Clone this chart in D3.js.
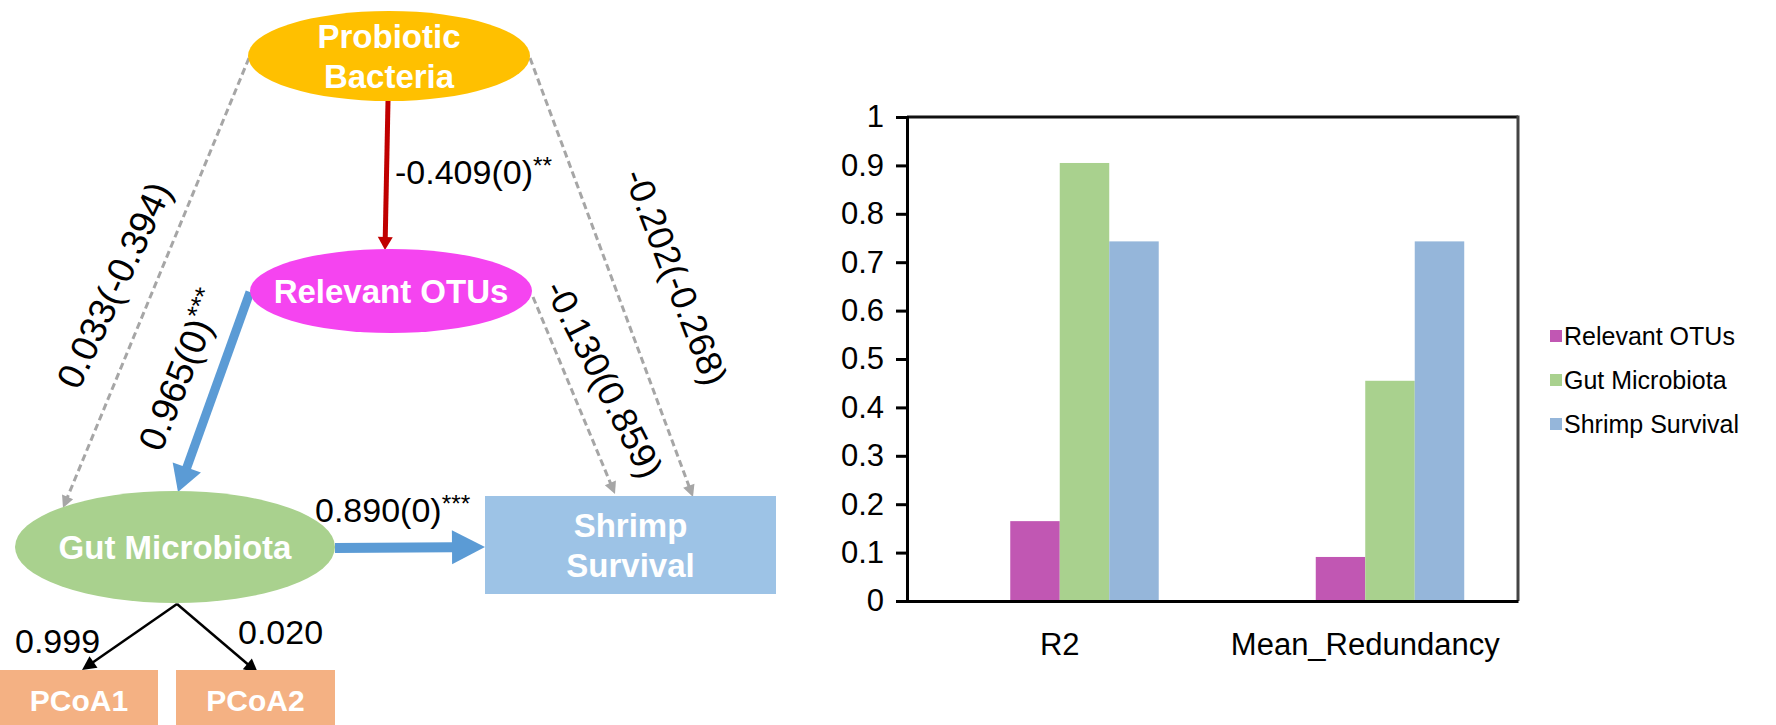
<!DOCTYPE html>
<html>
<head>
<meta charset="utf-8">
<script src="https://cdn.jsdelivr.net/npm/d3@7"></script>
<style>
  html, body { margin: 0; padding: 0; background: #fff; }
  svg { display: block; }
  text { font-family: "Liberation Sans", Arial, sans-serif; }
</style>
</head>
<body>
<svg id="chart" width="1776" height="725"></svg>
<script>
// ---------------- DATA ----------------
const categories = ["R2", "Mean_Redundancy"];
const seriesNames = ["Relevant OTUs", "Gut Microbiota", "Shrimp Survival"];
const relevantOTUs = [0.165, 0.091];
const gutMicrobiota = [0.905, 0.455];
const shrimpSurvival = [0.743, 0.743];
const yTicks = [0, 0.1, 0.2, 0.3, 0.4, 0.5, 0.6, 0.7, 0.8, 0.9, 1];

// path diagram content
const nodeIds = ["probiotic", "otus", "gut", "shrimp", "pcoa1", "pcoa2"];
const nodeLabels = [["Probiotic", "Bacteria"], ["Relevant OTUs"], ["Gut Microbiota"], ["Shrimp", "Survival"], ["PCoA1"], ["PCoA2"]];
const pathFrom = ["probiotic", "probiotic", "probiotic", "otus", "otus", "gut", "gut", "gut"];
const pathTo   = ["otus", "gut", "shrimp", "gut", "shrimp", "shrimp", "pcoa1", "pcoa2"];
const pathCoef = ["-0.409(0)", "0.033(-0.394)", "-0.202(-0.268)", "0.965(0)", "-0.130(0.859)", "0.890(0)", "0.999", "0.020"];
const pathStars = ["**", "", "", "***", "", "***", "", ""];

// ---------------- STYLES / LAYOUT ----------------
const seriesColors = ["#C157B3", "#A9D18E", "#95B6DA"];
const FONT = "'Liberation Sans', Arial, sans-serif";

const svg = d3.select("#chart");

// ---- layout of the path diagram (geometry only) ----
const nodeLayout = {
  probiotic: {shape: "ellipse", cx: 389, cy: 56, rx: 141, ry: 45, fill: "#FFC000", fs: 33},
  otus:      {shape: "ellipse", cx: 391, cy: 291, rx: 141, ry: 42, fill: "#F544F0", fs: 33},
  gut:       {shape: "ellipse", cx: 175, cy: 547, rx: 160, ry: 56, fill: "#A9D18E", fs: 33},
  shrimp:    {shape: "rect", x: 485, y: 496, w: 291, h: 98, fill: "#9DC3E6", fs: 33},
  pcoa1:     {shape: "rect", x: 0, y: 670, w: 158, h: 60, fill: "#F4B183", fs: 30},
  pcoa2:     {shape: "rect", x: 176, y: 670, w: 159, h: 60, fill: "#F4B183", fs: 30}
};
// edges: start/end points, style, and label placement
const edgeLayout = [
  {x1: 388, y1: 101, x2: 385, y2: 250, color: "#C00000", w: 5, hw: 15, hl: 13, dash: null,
   lx: 395, ly: 184, rot: 0, anchor: "start", fs: 34},
  {x1: 249, y1: 58, x2: 63, y2: 508, color: "#A6A6A6", w: 3, hw: 12, hl: 12, dash: "7,4",
   lx: 114, ly: 285, rot: -65, anchor: "middle", fs: 37},
  {x1: 530, y1: 58, x2: 693, y2: 497, color: "#A6A6A6", w: 3, hw: 12, hl: 12, dash: "7,4",
   lx: 676, ly: 277, rot: 69, anchor: "middle", fs: 36},
  {x1: 250, y1: 292, x2: 178, y2: 492, color: "#5B9BD5", w: 9, hw: 30, hl: 26, dash: null,
   lx: 181, ly: 370, rot: -68, anchor: "middle", fs: 37},
  {x1: 533, y1: 297, x2: 615, y2: 494, color: "#A6A6A6", w: 3, hw: 12, hl: 12, dash: "7,4",
   lx: 604, ly: 379, rot: 63, anchor: "middle", fs: 36},
  {x1: 335, y1: 548, x2: 485, y2: 547, color: "#5B9BD5", w: 10, hw: 34, hl: 33, dash: null,
   lx: 315, ly: 522, rot: 0, anchor: "start", fs: 34},
  {x1: 177, y1: 604, x2: 82, y2: 670, color: "#000000", w: 2.5, hw: 14, hl: 14, dash: null,
   lx: 15, ly: 653, rot: 0, anchor: "start", fs: 34},
  {x1: 177, y1: 604, x2: 258, y2: 673, color: "#000000", w: 2.5, hw: 14, hl: 14, dash: null,
   lx: 238, ly: 644, rot: 0, anchor: "start", fs: 34}
];

// ---- draw diagram edges ----
const gEdges = svg.append("g");
pathCoef.forEach((coef, i) => {
  const e = edgeLayout[i];
  const dx = e.x2 - e.x1, dy = e.y2 - e.y1;
  const len = Math.hypot(dx, dy);
  const ux = dx / len, uy = dy / len;
  const bx = e.x2 - ux * e.hl, by = e.y2 - uy * e.hl;
  const line = gEdges.append("line")
    .attr("x1", e.x1).attr("y1", e.y1).attr("x2", bx + ux * 1).attr("y2", by + uy * 1)
    .attr("stroke", e.color).attr("stroke-width", e.w);
  if (e.dash) line.attr("stroke-dasharray", e.dash);
  const px = -uy, py = ux;
  const pts = [[e.x2, e.y2], [bx + px * e.hw / 2, by + py * e.hw / 2], [bx - px * e.hw / 2, by - py * e.hw / 2]];
  gEdges.append("polygon").attr("points", pts.map(p => p.join(",")).join(" ")).attr("fill", e.color);
});

// ---- draw nodes ----
const gNodes = svg.append("g");
nodeIds.forEach((id, i) => {
  const n = nodeLayout[id];
  let cx, cy;
  if (n.shape === "ellipse") {
    gNodes.append("ellipse").attr("cx", n.cx).attr("cy", n.cy).attr("rx", n.rx).attr("ry", n.ry).attr("fill", n.fill);
    cx = n.cx; cy = n.cy;
  } else {
    gNodes.append("rect").attr("x", n.x).attr("y", n.y).attr("width", n.w).attr("height", n.h).attr("fill", n.fill);
    cx = n.x + n.w / 2; cy = n.y + n.h / 2;
  }
  const lines = nodeLabels[i];
  const lh = n.fs * 1.2;
  const t = gNodes.append("text").attr("text-anchor", "middle")
    .attr("font-size", n.fs).attr("font-weight", "bold").attr("fill", "#fff");
  lines.forEach((ln, k) => {
    t.append("tspan").attr("x", cx)
      .attr("y", cy + (k - (lines.length - 1) / 2) * lh + n.fs * 0.36)
      .text(ln);
  });
});

// ---- edge labels ----
const gLabels = svg.append("g");
pathCoef.forEach((coef, i) => {
  const e = edgeLayout[i];
  const t = gLabels.append("text")
    .attr("transform", `translate(${e.lx},${e.ly}) rotate(${e.rot})`)
    .attr("text-anchor", e.anchor)
    .attr("font-size", e.fs)
    .attr("fill", "#000");
  if (e.rot !== 0) t.attr("dy", "0.35em");
  t.append("tspan").text(coef);
  if (pathStars[i]) {
    t.append("tspan").attr("font-size", e.fs * 0.72).attr("dy", -e.fs * 0.3).text(pathStars[i]);
  }
});

// ---------------- BAR CHART ----------------
const plotLeft = 907, plotRight = 1518, plotTop = 117, plotBottom = 601;
const x = d3.scaleBand().domain(categories).range([plotLeft, plotRight]).paddingInner(0).paddingOuter(0);
const bw = x.bandwidth();
const barW = bw * 0.162;
const xInner = d3.scaleBand().domain(seriesNames).range([bw / 2 - barW, bw / 2 + 2 * barW]);
const y = d3.scaleLinear().domain([0, 1]).range([plotBottom, plotTop]);
const seriesValues = [relevantOTUs, gutMicrobiota, shrimpSurvival];

const gBars = svg.append("g");
seriesNames.forEach((s, si) => {
  gBars.selectAll(null).data(categories).join("rect")
    .attr("x", (c) => x(c) + xInner(s))
    .attr("width", xInner.bandwidth())
    .attr("y", (c, ci) => y(seriesValues[si][ci]))
    .attr("height", (c, ci) => y(0) - y(seriesValues[si][ci]))
    .attr("fill", seriesColors[si]);
});

// frame (top and right)
svg.append("line").attr("x1", plotLeft).attr("x2", plotRight).attr("y1", plotTop).attr("y2", plotTop)
  .attr("stroke", "#111").attr("stroke-width", 3);
svg.append("line").attr("x1", plotRight).attr("x2", plotRight).attr("y1", plotTop - 1.5).attr("y2", plotBottom)
  .attr("stroke", "#444").attr("stroke-width", 3);

// y axis
const yAxis = d3.axisLeft(y).tickValues(yTicks).tickSize(11).tickPadding(12).tickFormat(d => String(d));
const gy = svg.append("g").attr("transform", `translate(${plotLeft},0)`).call(yAxis);
gy.select(".domain").attr("stroke", "#000").attr("stroke-width", 3);
gy.selectAll(".tick line").attr("stroke", "#000").attr("stroke-width", 3);
gy.selectAll(".tick text").attr("font-size", 31).attr("font-family", FONT).attr("fill", "#000");

// x axis
const xAxis = d3.axisBottom(x).tickSize(0).tickPadding(32);
const gx = svg.append("g").attr("transform", `translate(0,${plotBottom})`).call(xAxis);
gx.select(".domain").attr("stroke", "#000").attr("stroke-width", 3);
gx.selectAll(".tick text").attr("font-size", 31).attr("font-family", FONT).attr("fill", "#000");

// legend
const gLeg = svg.append("g");
const legX = 1550, legY0 = 336, legDy = 44;
seriesNames.forEach((s, i) => {
  gLeg.append("rect").attr("x", legX).attr("y", legY0 + i * legDy - 6).attr("width", 12).attr("height", 12)
    .attr("fill", seriesColors[i]);
  gLeg.append("text").attr("x", legX + 14).attr("y", legY0 + i * legDy).attr("dy", "0.35em")
    .attr("font-size", 25).attr("fill", "#000").text(s);
});
</script>
</body>
</html>
